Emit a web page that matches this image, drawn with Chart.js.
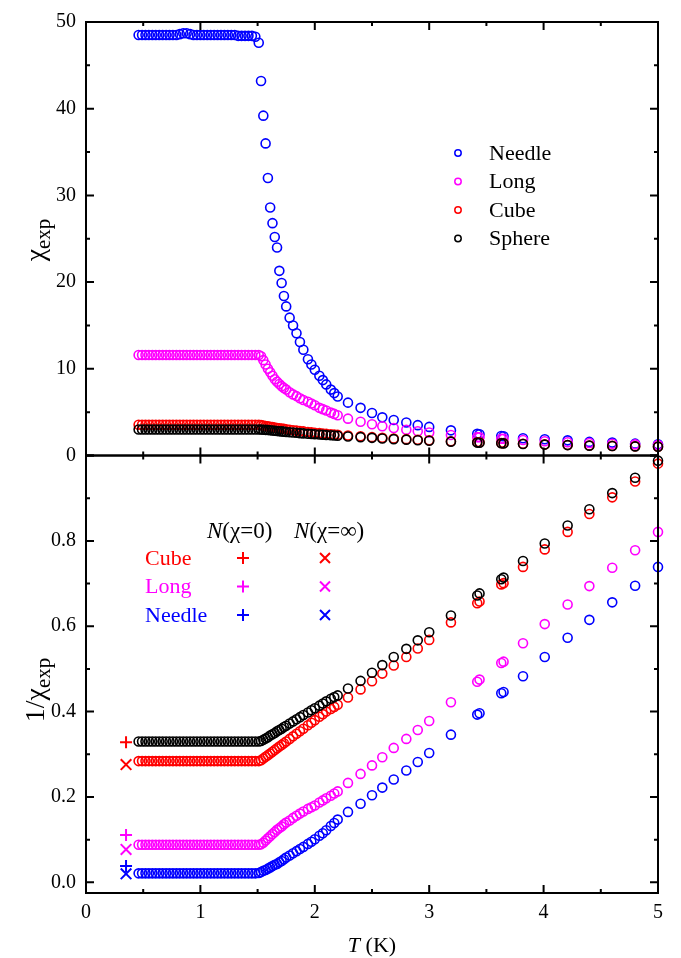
<!DOCTYPE html>
<html>
<head>
<meta charset="utf-8">
<script src="https://cdn.jsdelivr.net/npm/chart.js@4.4.1/dist/chart.umd.min.js"></script>
<style>
  html, body { margin: 0; padding: 0; background: #fff; }
</style>
</head>
<body>
<canvas id="chart" width="681" height="958"></canvas>
<script>
// Temperature grid (K): plateau, transition, high-T
const temps = [
  0.46, 0.49, 0.52, 0.55, 0.58, 0.61, 0.64, 0.67, 0.70, 0.73, 0.76, 0.79,
  0.82, 0.85, 0.88, 0.91, 0.94, 0.97, 1.00, 1.03, 1.06, 1.09, 1.12, 1.15,
  1.18, 1.21, 1.24, 1.27, 1.30, 1.33, 1.36, 1.39, 1.42, 1.45, 1.48, 1.51,
  1.53, 1.55, 1.57, 1.59, 1.61, 1.63, 1.65, 1.67, 1.69, 1.71, 1.73, 1.75, 1.78,
  1.81, 1.84, 1.87, 1.90, 1.94, 1.97, 2.00, 2.04, 2.07, 2.10, 2.14, 2.17, 2.20,
  2.29, 2.40, 2.50, 2.59, 2.69, 2.80, 2.90, 3.00, 3.19, 3.42,
  3.44, 3.63, 3.65, 3.82, 4.01, 4.21, 4.40, 4.60, 4.80, 5.00
];

// chi_exp (top panel)
const needleChi = [
  48.5, 48.5, 48.5, 48.5, 48.5, 48.5, 48.5, 48.5, 48.5, 48.5, 48.5, 48.5,
  48.6, 48.7, 48.7, 48.6, 48.5, 48.5, 48.5, 48.5, 48.5, 48.5, 48.5, 48.5,
  48.5, 48.5, 48.5, 48.5, 48.5, 48.4, 48.4, 48.4, 48.4, 48.4, 48.3, 47.6,
  43.2, 39.2, 36.0, 32.0, 28.6, 26.8, 25.2, 24.0, 21.3, 19.9, 18.4, 17.2, 15.9,
  15.0, 14.1, 13.1, 12.2, 11.1, 10.5, 9.9, 9.2, 8.7, 8.2, 7.6, 7.2, 6.8,
  6.1, 5.5, 4.9, 4.4, 4.1, 3.8, 3.5, 3.3, 2.9, 2.5,
  2.45, 2.25, 2.22, 2.0, 1.87, 1.75, 1.57, 1.49, 1.37, 1.3
];
const longChi = [
  11.6, 11.6, 11.6, 11.6, 11.6, 11.6, 11.6, 11.6, 11.6, 11.6, 11.6, 11.6,
  11.6, 11.6, 11.6, 11.6, 11.6, 11.6, 11.6, 11.6, 11.6, 11.6, 11.6, 11.6,
  11.6, 11.6, 11.6, 11.6, 11.6, 11.6, 11.6, 11.6, 11.6, 11.6, 11.6, 11.6,
  11.45, 11.0, 10.5, 10.0, 9.6, 9.2, 8.8, 8.5, 8.25, 8.0, 7.8, 7.6, 7.3,
  7.05, 6.85, 6.6, 6.4, 6.2, 6.0, 5.8, 5.5, 5.35, 5.2, 4.95, 4.8, 4.65,
  4.25, 3.9, 3.6, 3.38, 3.17, 2.98, 2.8, 2.65, 2.37, 2.12,
  2.1, 1.94, 1.93, 1.79, 1.65, 1.53, 1.44, 1.36, 1.29, 1.22
];
const cubeChi = [
  3.55, 3.55, 3.55, 3.55, 3.55, 3.55, 3.55, 3.55, 3.55, 3.55, 3.55, 3.55,
  3.55, 3.55, 3.55, 3.55, 3.55, 3.55, 3.55, 3.55, 3.55, 3.55, 3.55, 3.55,
  3.55, 3.55, 3.55, 3.55, 3.55, 3.55, 3.55, 3.55, 3.55, 3.55, 3.55, 3.55,
  3.5, 3.45, 3.4, 3.36, 3.31, 3.27, 3.23, 3.18, 3.14, 3.1, 3.07, 3.03, 2.98,
  2.92, 2.87, 2.82, 2.78, 2.72, 2.67, 2.63, 2.58, 2.54, 2.5, 2.45, 2.42, 2.39,
  2.31, 2.21, 2.12, 2.04, 1.97, 1.89, 1.82, 1.76, 1.64, 1.53,
  1.52, 1.43, 1.43, 1.35, 1.28, 1.22, 1.16, 1.11, 1.06, 1.02
];
const sphereChi = [
  3.0, 3.0, 3.0, 3.0, 3.0, 3.0, 3.0, 3.0, 3.0, 3.0, 3.0, 3.0,
  3.0, 3.0, 3.0, 3.0, 3.0, 3.0, 3.0, 3.0, 3.0, 3.0, 3.0, 3.0,
  3.0, 3.0, 3.0, 3.0, 3.0, 3.0, 3.0, 3.0, 3.0, 3.0, 3.0, 3.0,
  3.0, 2.98, 2.96, 2.94, 2.91, 2.88, 2.86, 2.83, 2.8, 2.78, 2.75, 2.72, 2.69,
  2.65, 2.62, 2.58, 2.55, 2.51, 2.48, 2.45, 2.42, 2.39, 2.36, 2.33, 2.3, 2.28,
  2.2, 2.12, 2.04, 1.96, 1.89, 1.83, 1.76, 1.71, 1.6, 1.49,
  1.48, 1.41, 1.4, 1.33, 1.26, 1.2, 1.14, 1.1, 1.05, 1.01
];

// 1/chi_exp (bottom panel)
const needleInv = [
  0.021, 0.021, 0.021, 0.021, 0.021, 0.021, 0.021, 0.021, 0.021, 0.021, 0.021, 0.021,
  0.021, 0.021, 0.021, 0.021, 0.021, 0.021, 0.021, 0.021, 0.021, 0.021, 0.021, 0.021,
  0.021, 0.021, 0.021, 0.021, 0.021, 0.021, 0.021, 0.021, 0.021, 0.021, 0.021, 0.022,
  0.024, 0.027, 0.029, 0.032, 0.035, 0.038, 0.041, 0.043, 0.047, 0.050, 0.054, 0.058, 0.063,
  0.068, 0.073, 0.078, 0.083, 0.090, 0.095, 0.101, 0.109, 0.115, 0.122, 0.132, 0.139, 0.147,
  0.165, 0.184, 0.204, 0.222, 0.241, 0.262, 0.282, 0.303, 0.346, 0.393,
  0.396, 0.443, 0.446, 0.483, 0.528, 0.573, 0.615, 0.656, 0.695, 0.739
];
const longInv = [
  0.088, 0.088, 0.088, 0.088, 0.088, 0.088, 0.088, 0.088, 0.088, 0.088, 0.088, 0.088,
  0.088, 0.088, 0.088, 0.088, 0.088, 0.088, 0.088, 0.088, 0.088, 0.088, 0.088, 0.088,
  0.088, 0.088, 0.088, 0.088, 0.088, 0.088, 0.088, 0.088, 0.088, 0.088, 0.088, 0.088,
  0.089, 0.093, 0.098, 0.103, 0.108, 0.113, 0.118, 0.123, 0.127, 0.131, 0.136, 0.140, 0.145,
  0.151, 0.156, 0.161, 0.166, 0.172, 0.176, 0.180, 0.187, 0.192, 0.197, 0.203, 0.208, 0.213,
  0.233, 0.254, 0.274, 0.293, 0.315, 0.336, 0.357, 0.378, 0.422, 0.470,
  0.475, 0.514, 0.517, 0.560, 0.605, 0.651, 0.694, 0.737, 0.778, 0.821
];
const cubeInv = [
  0.284, 0.284, 0.284, 0.284, 0.284, 0.284, 0.284, 0.284, 0.284, 0.284, 0.284, 0.284,
  0.284, 0.284, 0.284, 0.284, 0.284, 0.284, 0.284, 0.284, 0.284, 0.284, 0.284, 0.284,
  0.284, 0.284, 0.284, 0.284, 0.284, 0.284, 0.284, 0.284, 0.284, 0.284, 0.284, 0.284,
  0.286, 0.290, 0.294, 0.298, 0.302, 0.306, 0.310, 0.314, 0.318, 0.322, 0.326, 0.330, 0.336,
  0.342, 0.348, 0.354, 0.360, 0.368, 0.374, 0.380, 0.388, 0.394, 0.400, 0.406, 0.411, 0.416,
  0.433, 0.452, 0.471, 0.489, 0.508, 0.528, 0.548, 0.568, 0.609, 0.654,
  0.658, 0.698, 0.701, 0.739, 0.780, 0.821, 0.863, 0.902, 0.939, 0.981
];
const sphereInv = [
  0.330, 0.330, 0.330, 0.330, 0.330, 0.330, 0.330, 0.330, 0.330, 0.330, 0.330, 0.330,
  0.330, 0.330, 0.330, 0.330, 0.330, 0.330, 0.330, 0.330, 0.330, 0.330, 0.330, 0.330,
  0.330, 0.330, 0.330, 0.330, 0.330, 0.330, 0.330, 0.330, 0.330, 0.330, 0.330, 0.330,
  0.331, 0.334, 0.337, 0.340, 0.344, 0.347, 0.350, 0.354, 0.357, 0.360, 0.364, 0.367, 0.372,
  0.377, 0.382, 0.387, 0.392, 0.398, 0.403, 0.408, 0.414, 0.419, 0.424, 0.430, 0.434, 0.438,
  0.454, 0.472, 0.491, 0.509, 0.528, 0.547, 0.567, 0.586, 0.625, 0.672,
  0.677, 0.710, 0.714, 0.753, 0.794, 0.836, 0.874, 0.912, 0.948, 0.988
];

// Demagnetisation-corrected markers at low T (Cube, Long, Needle)
const markerNames = ["Cube", "Long", "Needle"];
const markerT = [0.35, 0.35, 0.35];
const nZeroInv = [0.328, 0.111, 0.038];
const nInfInv = [0.276, 0.077, 0.020];

// Axis ticks
const xTicks = [0, 1, 2, 3, 4, 5];
const topTicks = [0, 10, 20, 30, 40, 50];
const botTicks = [0, 0.2, 0.4, 0.6, 0.8];

const BLUE = "#0000ff", MAGENTA = "#ff00ff", RED = "#ff0000", BLACK = "#000000";
const markerColors = [RED, MAGENTA, BLUE];
const SERIF = '"Liberation Serif", "Times New Roman", serif';

function pts(ys) {
  return temps.map((t, i) => ({ x: t, y: ys[i] }));
}

function circles(label, ys, color, axis) {
  return {
    label: label,
    data: pts(ys),
    yAxisID: axis,
    borderColor: color,
    backgroundColor: "rgba(0,0,0,0)",
    pointStyle: "circle",
    pointRadius: 4.5,
    borderWidth: 1.6,
    showLine: false,
    clip: false,
  };
}

function markers(label, ys, style) {
  return {
    label: label,
    data: markerT.map((t, i) => ({ x: t, y: ys[i] })),
    yAxisID: "yBot",
    borderColor: markerColors,
    backgroundColor: markerColors,
    pointStyle: style,
    pointRadius: style === "cross" ? 6 : 7.5,
    borderWidth: 2,
    showLine: false,
    clip: false,
  };
}

const datasets = [
  circles("Sphere", sphereChi, BLACK, "yTop"),
  circles("Cube", cubeChi, RED, "yTop"),
  circles("Long", longChi, MAGENTA, "yTop"),
  circles("Needle", needleChi, BLUE, "yTop"),
  circles("Sphere", sphereInv, BLACK, "yBot"),
  circles("Cube", cubeInv, RED, "yBot"),
  circles("Long", longInv, MAGENTA, "yBot"),
  circles("Needle", needleInv, BLUE, "yBot"),
  markers("N(chi=0)", nZeroInv, "cross"),
  markers("N(chi=inf)", nInfInv, "crossRot"),
];

// Draw a run of text pieces [text, font, dy] starting at x (or centered)
function richText(ctx, parts, x, y, center) {
  let w = 0;
  parts.forEach((p) => {
    ctx.font = p[1];
    w += ctx.measureText(p[0]).width;
  });
  let cx = center ? x - w / 2 : x;
  parts.forEach((p) => {
    ctx.font = p[1];
    ctx.fillText(p[0], cx, y + (p[2] || 0));
    cx += ctx.measureText(p[0]).width;
  });
}

const mids = (a) => a.slice(1).map((v, i) => (v + a[i]) / 2);

// Frame, inward ticks, legends and titles
const framePlugin = {
  id: "frame",
  afterDatasetsDraw(chart) {
    const ctx = chart.ctx;
    const { x, yTop, yBot } = chart.scales;
    ctx.save();
    ctx.strokeStyle = "#000";
    ctx.lineWidth = 2;

    const panels = [
      [yTop, topTicks],
      [yBot, botTicks.concat([1.0])],
    ];
    panels.forEach(([ys, yMaj]) => {
      ctx.strokeRect(x.left, ys.top, x.right - x.left, ys.bottom - ys.top);
      ctx.beginPath();
      [[xTicks, 8], [mids(xTicks), 4]].forEach(([vals, len]) => {
        vals.forEach((v) => {
          const px = x.getPixelForValue(v);
          ctx.moveTo(px, ys.bottom);
          ctx.lineTo(px, ys.bottom - len);
          ctx.moveTo(px, ys.top);
          ctx.lineTo(px, ys.top + len);
        });
      });
      [[yMaj, 8], [mids(yMaj), 4]].forEach(([vals, len]) => {
        vals.forEach((v) => {
          const py = ys.getPixelForValue(v);
          ctx.moveTo(x.left, py);
          ctx.lineTo(x.left + len, py);
          ctx.moveTo(x.right, py);
          ctx.lineTo(x.right - len, py);
        });
      });
      ctx.stroke();
    });
    ctx.restore();
  },
  afterDraw(chart) {
    const ctx = chart.ctx;
    const { x, yTop, yBot } = chart.scales;
    ctx.save();
    ctx.textBaseline = "middle";
    ctx.textAlign = "left";

    // Top legend
    const topLegend = [["Needle", BLUE], ["Long", MAGENTA], ["Cube", RED], ["Sphere", BLACK]];
    topLegend.forEach(([name, color], i) => {
      const y = 153 + i * 28.5;
      ctx.strokeStyle = color;
      ctx.lineWidth = 1.5;
      ctx.beginPath();
      ctx.arc(458, y, 3.2, 0, Math.PI * 2);
      ctx.stroke();
      ctx.fillStyle = "#000";
      ctx.font = "22px " + SERIF;
      ctx.fillText(name, 489, y + 1);
    });

    // Bottom legend
    ctx.fillStyle = "#000";
    const reg = "22px " + SERIF, ital = "italic 22px " + SERIF;
    const hdr = "23px " + SERIF, hdrI = "italic 23px " + SERIF;
    richText(ctx, [["N", hdrI], ["(\u03c7=0)", hdr]], 207, 532);
    richText(ctx, [["N", hdrI], ["(\u03c7=\u221e)", hdr]], 294, 532);
    markerNames.forEach((name, i) => {
      const y = 558 + i * 28.5;
      const c = markerColors[i];
      ctx.fillStyle = c;
      ctx.font = reg;
      ctx.fillText(name, 145, y + 1);
      ctx.strokeStyle = c;
      ctx.lineWidth = 2;
      ctx.beginPath();
      ctx.moveTo(237, y); ctx.lineTo(249, y);
      ctx.moveTo(243, y - 6); ctx.lineTo(243, y + 6);
      ctx.moveTo(320, y - 5); ctx.lineTo(330, y + 5);
      ctx.moveTo(330, y - 5); ctx.lineTo(320, y + 5);
      ctx.stroke();
    });

    // Axis titles
    ctx.fillStyle = "#000";
    ctx.textBaseline = "alphabetic";
    richText(ctx, [["T", ital], [" (K)", reg]], (x.left + x.right) / 2, 952, true);

    ctx.save();
    ctx.translate(44, 240);
    ctx.rotate(-Math.PI / 2);
    richText(ctx, [["\u03c7", "28px " + SERIF], ["exp", "21px " + SERIF, 6]], 0, 0, true);
    ctx.restore();

    ctx.save();
    ctx.translate(44, 690);
    ctx.rotate(-Math.PI / 2);
    richText(ctx, [["1/\u03c7", "28px " + SERIF], ["exp", "21px " + SERIF, 6]], 0, 0, true);
    ctx.restore();

    ctx.restore();
  },
};

Chart.defaults.font.family = SERIF;
Chart.defaults.color = "#000";

const tickFont = { size: 20 };

new Chart(document.getElementById("chart"), {
  type: "scatter",
  data: { datasets: datasets },
  options: {
    responsive: false,
    animation: false,
    events: [],
    layout: { padding: { top: 15, right: 23, left: 0, bottom: 0 } },
    plugins: { legend: { display: false }, tooltip: { enabled: false } },
    scales: {
      x: {
        type: "linear",
        position: "bottom",
        min: 0,
        max: 5,
        grid: { display: false, drawTicks: false },
        border: { display: false },
        afterBuildTicks: (s) => { s.ticks = xTicks.map((v) => ({ value: v })); },
        afterFit: (s) => { s.height = 65; },
        ticks: { padding: 8, font: tickFont, maxRotation: 0, callback: (v) => String(v) },
      },
      yBot: {
        type: "linear",
        position: "left",
        stack: "panels",
        stackWeight: 441,
        weight: 1,
        min: -0.025,
        max: 1.0,
        grid: { display: false, drawTicks: false },
        border: { display: false },
        afterBuildTicks: (s) => { s.ticks = botTicks.map((v) => ({ value: v })); },
        afterFit: (s) => { s.width = 86; },
        ticks: { padding: 10, font: tickFont, callback: (v) => v.toFixed(1) },
      },
      yTop: {
        type: "linear",
        position: "left",
        stack: "panels",
        stackWeight: 437,
        weight: 2,
        min: 0,
        max: 50,
        grid: { display: false, drawTicks: false },
        border: { display: false },
        afterBuildTicks: (s) => { s.ticks = topTicks.map((v) => ({ value: v })); },
        afterFit: (s) => { s.width = 86; },
        ticks: { padding: 10, font: tickFont, callback: (v) => String(v) },
      },
    },
  },
  plugins: [framePlugin],
});
</script>
</body>
</html>
